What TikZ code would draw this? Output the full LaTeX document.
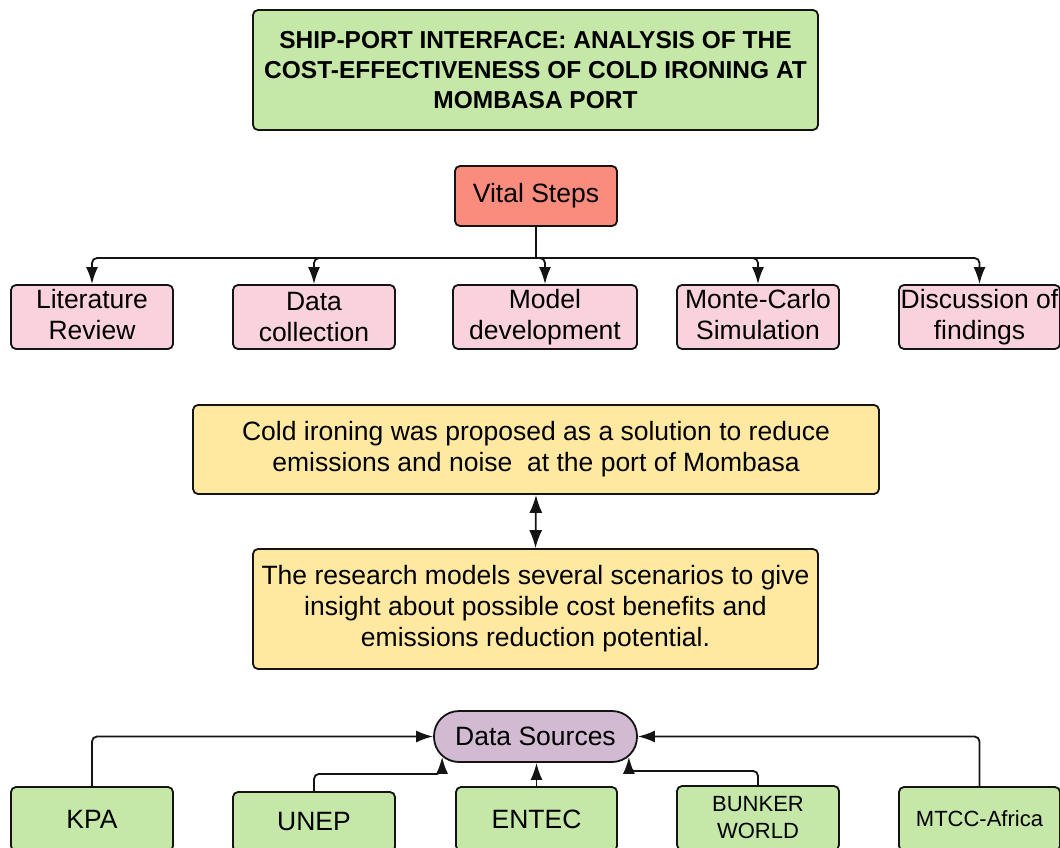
\documentclass[tikz,border=0pt]{standalone}
\usepackage{fontspec}
\setmainfont{Liberation Sans}
\usetikzlibrary{arrows.meta,calc}
\definecolor{tgreen}{RGB}{197,231,167}
\definecolor{tsalmon}{RGB}{250,140,126}
\definecolor{tpink}{RGB}{249,210,222}
\definecolor{tyellow}{RGB}{255,233,160}
\definecolor{tpurple}{RGB}{210,186,210}
\definecolor{tline}{RGB}{20,20,20}
\begin{document}
\begin{tikzpicture}[x=1pt,y=-1pt,
  box/.style={draw=tline,line width=1.8pt,rounded corners=5pt,align=center,inner sep=0pt,
    font=\fontsize{26.5}{31}\selectfont},
  conn/.style={draw=tline,line width=1.8pt},
  rc/.style={rounded corners=5pt},
  arr/.style={conn,-{Latex[length=17pt,width=12pt]}}]
\useasboundingbox (0,0) rectangle (1060,848);
\clip (0,0) rectangle (1060,848);
\fill[white] (0,0) rectangle (1060,848);
% title
\node[box,fill=tgreen,minimum width=565,minimum height=120,font=\fontsize{24.5}{30}\selectfont\bfseries]
  (title) at (535.5,70) {SHIP-PORT INTERFACE: ANALYSIS OF THE\\COST-EFFECTIVENESS OF COLD IRONING AT\\MOMBASA PORT};
% vital steps
\node[box,fill=tsalmon,minimum width=162,minimum height=60] (vital) at (536,196) {Vital Steps};
\node[box,fill=tpink,minimum width=162,minimum height=64] (lit) at (92,317) {Literature\\Review\vphantom{g}};
\node[box,fill=tpink,minimum width=162,minimum height=64] (data) at (314,317) {Data\\collection};
\node[box,fill=tpink,minimum width=184,minimum height=64] (model) at (545,317) {Model\\development};
\node[box,fill=tpink,minimum width=162,minimum height=64] (monte) at (758,317) {Monte-Carlo\\Simulation\vphantom{g}};
\node[box,fill=tpink,minimum width=161,minimum height=64] (disc) at (979.5,317) {Discussion of\\findings};
\coordinate (hub) at (536,258);
\draw[conn] (vital.south) -- (hub);
\foreach \n in {lit,data,model,monte,disc}{\draw[arr] (hub) [rc] -| (\n.north);}
% yellow boxes
\node[box,fill=tyellow,minimum width=686,minimum height=89] (y1) at (536,449.5)
  {Cold ironing was proposed as a solution to reduce\\emissions and noise\ \ at the port of Mombasa};
\node[box,fill=tyellow,minimum width=565,minimum height=120] (y2) at (535.5,609)
  {The research models several scenarios to give\\insight about possible cost benefits and\\emissions reduction potential.};
\draw[conn,{Latex[length=18pt,width=13pt]}-{Latex[length=18pt,width=13pt]}] (y1.south) -- (y2.north);
% data sources
\node[box,fill=tpurple,minimum width=203,minimum height=51,rounded corners=25pt] (ds) at (535.5,736.5) {Data Sources};
\node[box,fill=tgreen,minimum width=162,minimum height=64] (kpa) at (92,819) {KPA};
\node[box,fill=tgreen,minimum width=162,minimum height=60] (unep) at (314,822) {UNEP};
\node[box,fill=tgreen,minimum width=161,minimum height=64] (entec) at (536.5,819) {ENTEC};
\node[box,fill=tgreen,minimum width=162,minimum height=64,font=\fontsize{22}{27}\selectfont] (bunker) at (758,818) {BUNKER\\WORLD};
\node[box,fill=tgreen,minimum width=161,minimum height=64,font=\fontsize{22}{27}\selectfont] (mtcc) at (979.5,819) {MTCC-Africa};
\draw[arr] (kpa.north) [rc] |- (ds.west);
\draw[arr] (mtcc.north) [rc] |- (ds.east);
\draw[arr] (entec.north) -- (entec.north |- ds.south);
\coordinate (uc) at ($(ds.south west)+(9,-6)$);
\coordinate (bc) at ($(ds.south east)+(-9,-6)$);
\draw[arr] (unep.north) [rc] |- ($(uc)+(0,17)$) -- (uc);
\draw[arr] (bunker.north) [rc] |- ($(bc)+(0,14)$) -- (bc);
\end{tikzpicture}
\end{document}
